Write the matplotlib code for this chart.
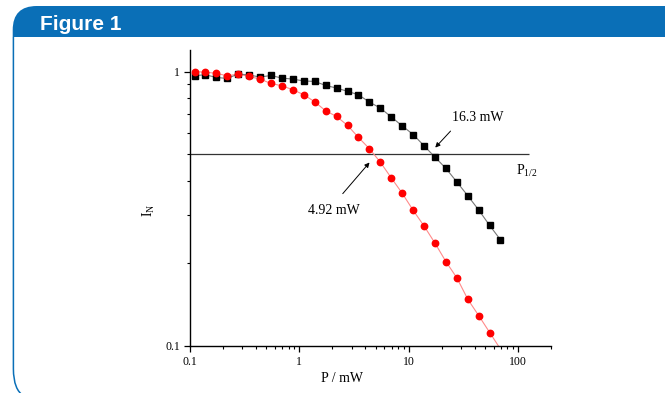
import matplotlib.pyplot as plt
import numpy as np
from matplotlib.path import Path
from matplotlib.patches import PathPatch

# power values (mW), shared by both series
power = [0.11, 0.138, 0.174, 0.219, 0.276, 0.347, 0.437, 0.55, 0.69, 0.87,
         1.1, 1.38, 1.74, 2.19, 2.76, 3.47, 4.37, 5.5, 6.9, 8.7,
         11.0, 13.8, 17.4, 21.9, 27.6, 34.7, 43.7, 55.0, 69.0]

# normalised intensity, red circles (P1/2 = 4.92 mW)
red_in = [1.0, 0.997, 0.986, 0.967, 0.98, 0.961, 0.94, 0.906, 0.889, 0.86,
          0.824, 0.777, 0.72, 0.687, 0.637, 0.576, 0.524, 0.468, 0.411, 0.361,
          0.312, 0.274, 0.237, 0.203, 0.177, 0.148, 0.129, 0.112]

# normalised intensity, black squares (P1/2 = 16.3 mW)
black_in = [0.967, 0.975, 0.953, 0.945, 0.981, 0.973, 0.956, 0.969, 0.948, 0.94,
            0.925, 0.922, 0.891, 0.872, 0.848, 0.824, 0.775, 0.737, 0.685, 0.635,
            0.59, 0.537, 0.488, 0.444, 0.396, 0.353, 0.313, 0.275, 0.244]

half_level = 0.5
blue = '#0a6fb7'

plt.rcParams['font.family'] = ['Liberation Serif', 'DejaVu Serif']

fig = plt.figure(figsize=(6.65, 3.93), dpi=100)

# blue header band with rounded top-left corner (inch coordinates)
x0, yb, yt, r = 0.127, 3.56, 3.87, 0.24
verts = [(x0, yb), (x0, yt - r), (x0, yt), (x0 + r, yt), (6.70, yt), (6.70, yb), (x0, yb)]
codes = [Path.MOVETO, Path.LINETO, Path.CURVE3, Path.CURVE3, Path.LINETO, Path.LINETO, Path.CLOSEPOLY]
fig.patches.append(PathPatch(Path(verts, codes), transform=fig.dpi_scale_trans,
                             facecolor=blue, edgecolor='none'))
# left border line with rounded bottom
verts = [(0.134, 3.56), (0.134, 0.24), (0.134, 0.03), (0.24, -0.03)]
codes = [Path.MOVETO, Path.LINETO, Path.CURVE3, Path.CURVE3]
fig.patches.append(PathPatch(Path(verts, codes), transform=fig.dpi_scale_trans,
                             facecolor='none', edgecolor=blue, lw=1.1))
fig.text(40 / 665, 1 - 24 / 393, 'Figure 1', color='white', fontsize=15, fontweight='bold',
         family='Liberation Sans', va='center', ha='left')

ax = fig.add_axes([190 / 665, 47 / 393, 361 / 665, 296 / 393])
ax.set_xscale('log')
ax.set_yscale('log')
ax.set_xlim(0.1, 200)
ax.set_ylim(0.1, 1.2)

# connecting lines (red one extended to the axis like a fit)
rx = np.array(power[:len(red_in)])
ry = np.array(red_in)
slope = np.log10(ry[-1] / ry[-2]) / np.log10(rx[-1] / rx[-2])
ext_x = rx[-1] * 1.3
ext_y = ry[-1] * 1.3 ** slope
ax.plot(np.append(rx, ext_x), np.append(ry, ext_y), color='#ff8a8a', lw=0.8, zorder=2)
ax.plot(power, black_in, color='#777777', lw=0.8, zorder=2)
ax.plot(power, black_in, 's', color='black', ms=4.3, zorder=3)
ax.plot(rx, ry, 'o', color='red', ms=4.6, mec='red', zorder=4)

ax.hlines(half_level, 0.1, 125, color='#333333', lw=0.9, zorder=1)

ax.text(24.7, 0.68, '16.3 mW', fontsize=10, va='center', ha='left')
ax.annotate('', xy=(16.8, 0.52), xytext=(25.1, 0.618),
            arrowprops=dict(arrowstyle='-|>', color='black', lw=0.7, mutation_scale=7))
ax.text(2.09, 0.312, '4.92 mW', fontsize=10, va='center', ha='center')
ax.annotate('', xy=(4.55, 0.475), xytext=(2.4, 0.353),
            arrowprops=dict(arrowstyle='-|>', color='black', lw=0.7, mutation_scale=7))
ax.text(96, 0.435, r'$\mathregular{P_{1/2}}$', fontsize=10, va='center', ha='left')

ax.spines['top'].set_visible(False)
ax.spines['right'].set_visible(False)
ax.spines['left'].set_linewidth(1.0)
ax.spines['bottom'].set_linewidth(1.0)

ax.set_xticks([0.1, 1, 10, 100])
ax.set_xticklabels(['0.1', '1', '10', '100'])
ax.set_yticks([0.1, 1])
ax.set_yticklabels(['0.1', '1'])
ax.tick_params(which='major', direction='out', length=4, width=0.9, labelsize=8.5, pad=3)
ax.tick_params(which='minor', direction='out', length=2.5, width=0.8, labelleft=False, labelbottom=False)

ax.text(0.421, -0.111, 'P / mW', transform=ax.transAxes, fontsize=10, ha='center', va='center')
ax.text(-0.114, 0.459, r'$\mathregular{I_N}$', transform=ax.transAxes, fontsize=10,
        ha='center', va='center', rotation=90)

fig.savefig('out.png', dpi=100)
